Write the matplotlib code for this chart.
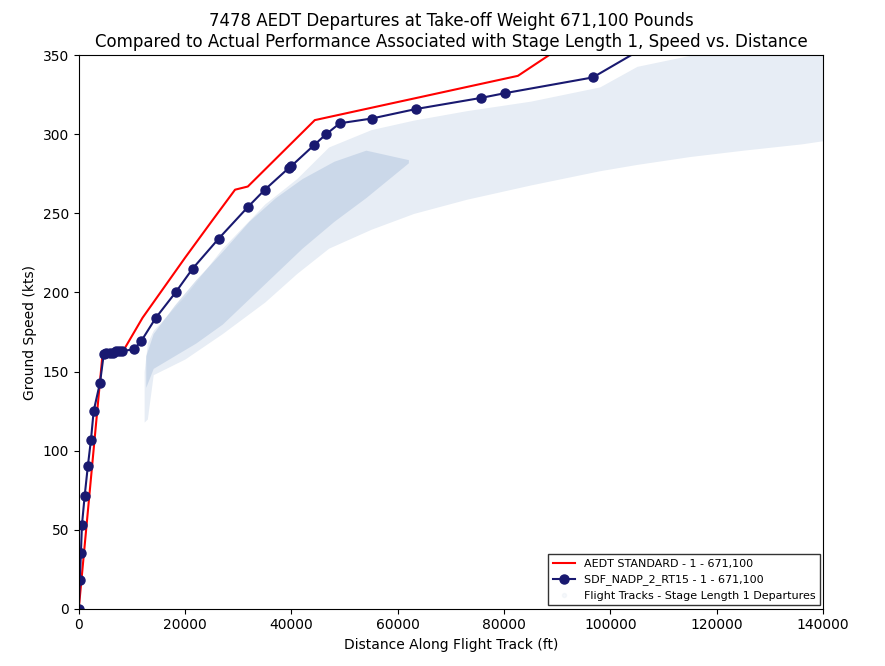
import numpy as np
import matplotlib
matplotlib.use("Agg")
import matplotlib.pyplot as plt

# AEDT standard profile (distance ft, ground speed kts)
aedt_dist = [0, 4500, 8700, 12000, 16000, 20000, 25000, 29400, 31800, 44400, 82600, 92000]
aedt_speed = [0, 162, 165, 184, 203, 222, 245, 265, 267, 309, 337, 358]

# SDF_NADP_2_RT15 profile
nadp_dist = [0, 200, 400, 600, 1100, 1700, 2300, 2800, 4000, 4700, 5200, 5800, 6400,
             7000, 7600, 8200, 10300, 11700, 14500, 18200, 21400, 26300, 31800, 35000,
             39600, 40000, 44200, 46500, 49100, 55100, 63400, 75600, 80100, 96700, 110000]
nadp_speed = [0, 18, 35, 53, 71, 90, 107, 125, 143, 161, 162, 162, 162,
              163, 163, 163, 164, 169, 184, 200, 215, 234, 254, 265,
              279, 280, 293, 300, 307, 310, 316, 323, 326, 336, 362]

# flight track cloud outline
cloud_dist = [12300, 12900, 14000, 20000, 27000, 35000, 41000, 47000, 55000, 63000,
              73000, 85000, 98000, 105000, 115000, 125000, 136000, 140000]
cloud_low = [118, 120, 148, 158, 174, 194, 212, 228, 240, 250,
             259, 268, 277, 281, 286, 290, 294, 296]
cloud_high = [150, 168, 176, 198, 228, 256, 272, 292, 303, 309,
              315, 321, 330, 343, 350, 350, 350, 350]

# denser core of the cloud
core_dist = [12600, 14000, 18000, 22000, 27000, 32000, 37000, 42000, 48000, 54000, 62000]
core_low = [140, 152, 160, 168, 180, 196, 212, 228, 245, 260, 282]
core_high = [160, 174, 192, 208, 226, 245, 260, 272, 283, 290, 284]

fig = plt.figure(figsize=(8.85, 6.66), dpi=100)
ax = fig.add_axes([0.089, 0.086, 0.841, 0.831])

ax.fill_between(cloud_dist, cloud_low, cloud_high, color='lightsteelblue', alpha=0.3, lw=0)
ax.fill_between(core_dist, core_low, core_high, color='lightsteelblue', alpha=0.5, lw=0)

ax.plot(aedt_dist, aedt_speed, color='red', lw=1.5, label='AEDT STANDARD - 1 - 671,100')
ax.plot(nadp_dist, nadp_speed, 'o-', color='midnightblue', lw=1.5, markersize=6.5,
        label='SDF_NADP_2_RT15 - 1 - 671,100')
ax.plot([], [], 'o', color='lightsteelblue', alpha=0.1, markersize=3,
        label='Flight Tracks - Stage Length 1 Departures')

ax.set_xlim(0, 140000)
ax.set_ylim(0, 350)
ax.set_xlabel('Distance Along Flight Track (ft)')
ax.set_ylabel('Ground Speed (kts)')
ax.set_title('7478 AEDT Departures at Take-off Weight 671,100 Pounds\n'
             'Compared to Actual Performance Associated with Stage Length 1, Speed vs. Distance')
ax.legend(loc='lower right', fontsize=8, fancybox=False, edgecolor='black',
          borderaxespad=0.3)

fig.savefig('out.png', dpi=100)
